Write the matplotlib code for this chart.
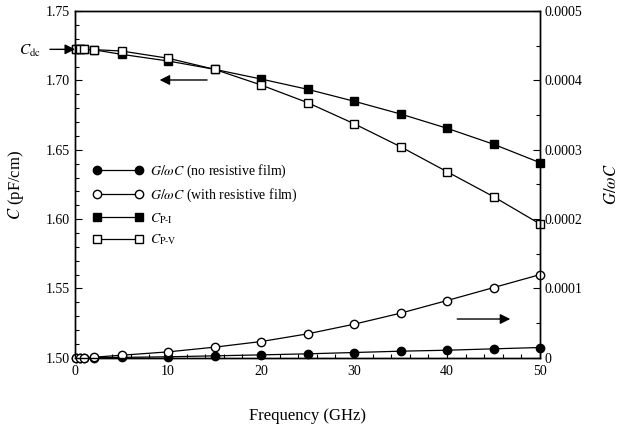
import numpy as np
import matplotlib
matplotlib.use("Agg")
import matplotlib.pyplot as plt
from matplotlib.ticker import MultipleLocator, FixedLocator

plt.rcParams['font.family'] = ['Liberation Serif', 'DejaVu Serif']
plt.rcParams['mathtext.fontset'] = 'stix'

# data
freq = [0.1, 0.5, 1, 2, 5, 10, 15, 20, 25, 30, 35, 40, 45, 50]
c_pi = [1.7224, 1.7224, 1.7223, 1.7221, 1.7188, 1.7140, 1.7080, 1.7010,
        1.6936, 1.6850, 1.6758, 1.6655, 1.6540, 1.6407]
c_pv = [1.7224, 1.7224, 1.7223, 1.7222, 1.7212, 1.7160, 1.7080, 1.6967,
        1.6840, 1.6688, 1.6522, 1.6342, 1.6162, 1.5965]
g_nofilm = [0.001e-4, 0.001e-4, 0.002e-4, 0.002e-4, 0.007e-4, 0.015e-4, 0.029e-4,
            0.043e-4, 0.058e-4, 0.077e-4, 0.096e-4, 0.110e-4, 0.130e-4, 0.149e-4]
g_film = [0.000e-4, 0.002e-4, 0.004e-4, 0.009e-4, 0.038e-4, 0.086e-4, 0.154e-4,
          0.235e-4, 0.346e-4, 0.485e-4, 0.644e-4, 0.826e-4, 1.013e-4, 1.200e-4]
c_dc = 1.7224

fig = plt.figure(figsize=(6.2, 4.25), dpi=100)
ax = fig.add_axes([0.121, 0.158, 0.75, 0.816])
ax2 = ax.twinx()

ms = 6
l1, = ax2.plot(freq, g_nofilm, 'k-', marker='o', ms=ms, mfc='k', lw=0.9, clip_on=False)
l2, = ax2.plot(freq, g_film, 'k-', marker='o', ms=ms, mfc='white', lw=0.9, clip_on=False)
l3, = ax.plot(freq, c_pi, 'k-', marker='s', ms=ms, mfc='k', lw=0.9, clip_on=False)
l4, = ax.plot(freq, c_pv, 'k-', marker='s', ms=ms, mfc='white', lw=0.9, clip_on=False)

ax.set_xlim(0, 50)
ax.set_ylim(1.50, 1.75)
ax2.set_ylim(0, 0.0005)

ax.xaxis.set_major_locator(MultipleLocator(10))
ax.xaxis.set_minor_locator(MultipleLocator(2))
ax.yaxis.set_major_locator(MultipleLocator(0.05))
ax.yaxis.set_minor_locator(MultipleLocator(0.01))
ax.set_yticklabels(['%.2f' % v for v in ax.get_yticks()])
ax2.yaxis.set_major_locator(FixedLocator([0, 0.0001, 0.0002, 0.0003, 0.0004, 0.0005]))
ax2.yaxis.set_minor_locator(MultipleLocator(0.00005))
ax2.set_yticklabels(['0', '0.0001', '0.0002', '0.0003', '0.0004', '0.0005'])

for a in (ax, ax2):
    a.tick_params(which='both', direction='in', labelsize=10, top=False)
    a.tick_params(which='major', length=5, width=0.8)
    a.tick_params(which='minor', length=3, width=0.8)
    for s in a.spines.values():
        s.set_linewidth(1.0)
ax.tick_params(axis='y', which='both', right=False, pad=4)
ax.tick_params(axis='x', pad=5)
ax2.tick_params(axis='y', which='both', pad=3)

ax.set_xlabel('Frequency (GHz)', fontsize=12, labelpad=22)
ax.set_ylabel(r'$C$ (pF/cm)', fontsize=12, labelpad=14)
ax2.set_ylabel(r'$G/\omega C$', fontsize=12, labelpad=16)

ax.legend([l1, l2, l3, l4],
          [r'$G/\omega C$ (no resistive film)', r'$G/\omega C$ (with resistive film)',
           r'$C_{\mathrm{P\text{-}I}}$', r'$C_{\mathrm{P\text{-}V}}$'],
          loc='upper left', bbox_to_anchor=(0.012, 0.60), frameon=False,
          numpoints=2, handlelength=3.6, fontsize=10, labelspacing=0.5,
          handletextpad=0.5)

# arrows
ax.annotate('', xy=(0, c_dc), xytext=(-2.7, c_dc), annotation_clip=False,
            arrowprops=dict(arrowstyle='-|>', color='k', lw=1, mutation_scale=15,
                            shrinkA=0, shrinkB=0))
ax.text(-4.8, c_dc - 0.001, r'$C_{\mathrm{dc}}$', fontsize=11, ha='center', va='center')
ax.annotate('', xy=(9.1, 1.7003), xytext=(14.2, 1.7003),
            arrowprops=dict(arrowstyle='-|>', color='k', lw=1, mutation_scale=15,
                            shrinkA=0, shrinkB=0))
ax2.annotate('', xy=(46.8, 0.000056), xytext=(41.1, 0.000056),
             arrowprops=dict(arrowstyle='-|>', color='k', lw=1, mutation_scale=15,
                             shrinkA=0, shrinkB=0))

fig.savefig('out.png', dpi=100)
